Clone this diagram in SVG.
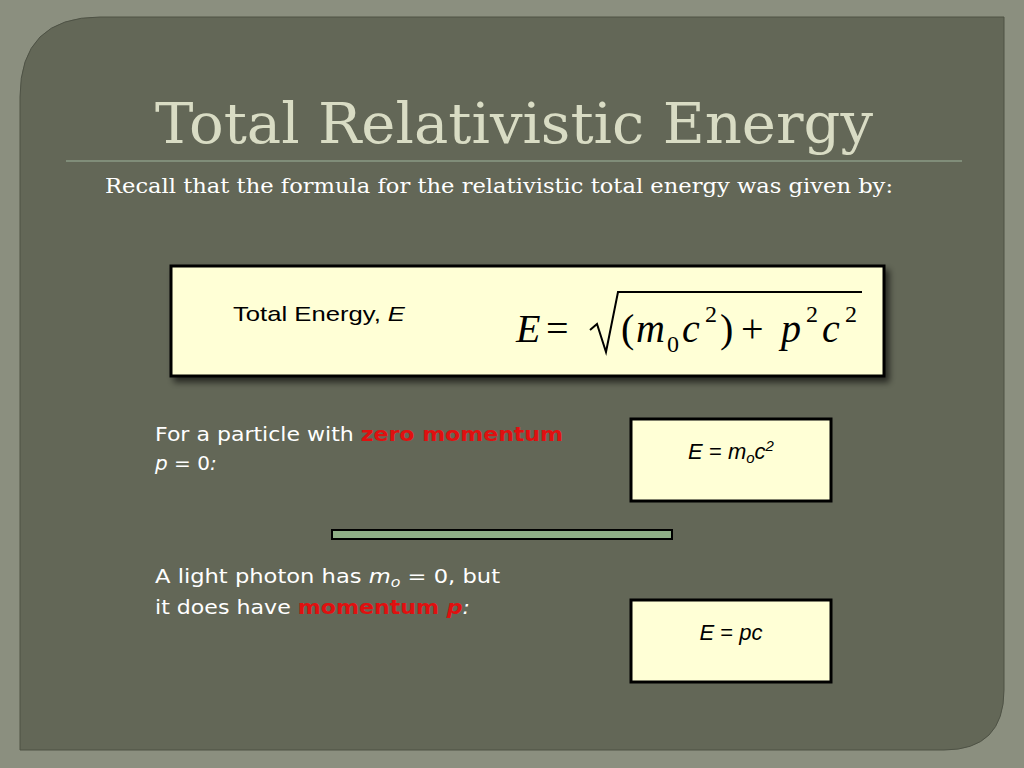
<svg xmlns="http://www.w3.org/2000/svg" width="1024" height="768" viewBox="0 0 1024 768">
<defs>
<style>
.t{font-family:"DejaVu Sans","Liberation Sans",sans-serif;font-size:20px;fill:#fff;}
.r{fill:#e01010;font-weight:bold;}
.b{font-family:"Liberation Serif","Times New Roman",serif;fill:#000;}
.box{fill:#ffffd6;stroke:#000;stroke-width:3;}
</style>
<filter id="sh" x="-10%" y="-10%" width="130%" height="140%"><feDropShadow dx="4" dy="5" stdDeviation="3" flood-color="#000" flood-opacity="0.6"/></filter>
</defs>
<rect width="1024" height="768" fill="#8b8f7f"/>
<path d="M100 17 H1004 V690 Q1004 750 944 750 H20 V97 Q20 17 100 17 Z" fill="#636757" stroke="#4e5245" stroke-width="1"/>
<text x="155" y="143" textLength="718" lengthAdjust="spacingAndGlyphs" style="font-family:'DejaVu Serif','Liberation Serif',serif;font-size:56px;fill:#d9dcc4">Total Relativistic Energy</text>
<line x1="66" y1="161" x2="962" y2="161" stroke="#8a9a84" stroke-width="1.5"/>
<text class="t" x="105" y="193" textLength="788" lengthAdjust="spacingAndGlyphs" style="font-family:'DejaVu Serif','Liberation Serif',serif;font-size:20px">Recall that the formula for the relativistic total energy was given by:</text>
<g id="formula">
<rect class="box" x="171" y="266" width="713" height="110" filter="url(#sh)"/>
<text class="b" x="233" y="321" font-size="21" textLength="172" lengthAdjust="spacingAndGlyphs" style="font-family:'Liberation Sans Narrow','Liberation Sans',sans-serif">Total Energy, <tspan font-style="italic">E</tspan></text>
<g class="b" font-size="40">
<text x="516" y="342" font-style="italic">E</text>
<text x="546" y="342">=</text>
<path d="M590 330 L597 324 L606 352 L618 292 H862" fill="none" stroke="#000" stroke-width="2"/>
<text x="621" y="342">(</text>
<text x="636" y="342" font-style="italic">m</text>
<text x="667" y="352" font-size="24">0</text>
<text x="682" y="342" font-style="italic">c</text>
<text x="705" y="322" font-size="24">2</text>
<text x="720" y="342">)</text>
<text x="741" y="342">+</text>
<text x="781" y="342" font-style="italic">p</text>
<text x="806" y="322" font-size="24">2</text>
<text x="822" y="342" font-style="italic">c</text>
<text x="845" y="322" font-size="24">2</text>
</g>
</g>
<text class="t" x="155" y="441" textLength="408" lengthAdjust="spacingAndGlyphs">For a particle with <tspan class="r">zero momentum</tspan></text>
<text class="t" x="155" y="470"><tspan font-style="italic">p</tspan> = 0<tspan font-style="italic">:</tspan></text>
<g id="box1">
<rect class="box" x="631" y="419" width="200" height="82"/>
<text class="b" x="731" y="459" text-anchor="middle" style="font-family:'Liberation Sans',sans-serif;font-size:22px"><tspan font-style="italic">E</tspan> = <tspan font-style="italic">m</tspan><tspan font-style="italic" font-size="15" dy="4">o</tspan><tspan font-style="italic" dy="-4">c</tspan><tspan font-style="italic" font-size="15" dy="-8">2</tspan></text>
</g>
<rect x="332" y="530" width="340" height="9" fill="#8fae86" stroke="#000" stroke-width="2"/>
<text class="t" x="155" y="583" textLength="345" lengthAdjust="spacingAndGlyphs">A light photon has <tspan font-style="italic">m</tspan><tspan font-style="italic" font-size="14" dy="4">o</tspan><tspan dy="-4"> = 0, but</tspan></text>
<text class="t" x="155" y="614" textLength="315" lengthAdjust="spacingAndGlyphs">it does have <tspan class="r">momentum <tspan font-style="italic">p</tspan></tspan><tspan font-style="italic">:</tspan></text>
<g id="box2">
<rect class="box" x="631" y="600" width="200" height="82"/>
<text class="b" x="731" y="640" text-anchor="middle" style="font-family:'Liberation Sans',sans-serif;font-size:22px"><tspan font-style="italic">E</tspan> = <tspan font-style="italic">pc</tspan></text>
</g>
</svg>
